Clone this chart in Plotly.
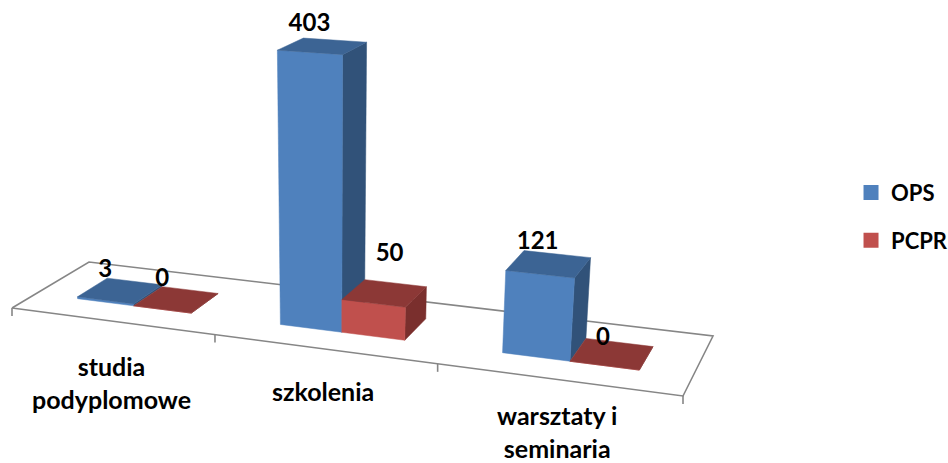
import numpy as np
import plotly.graph_objects as go

# ---- data ----
categories = ["studia<br>podyplomowe", "szkolenia", "warsztaty i<br>seminaria"]
series_names = ["OPS", "PCPR"]
ops_values = [3, 403, 121]
pcpr_values = [0, 50, 0]

# ---- styles ----
FACE = {
    "OPS": {"front": "#4F81BD", "top": "#3C6494", "side": "#315279"},
    "PCPR": {"front": "#C0504D", "top": "#8C3836", "side": "#7A2F2D"},
}
AXIS_COLOR = "#868686"
FONT = "Lato"

# ---- projection: (category position, depth, value) -> page pixel ----
FLOOR = {(0, 0): (12, 308), (3, 0): (683, 396), (3, 1): (713, 336), (0, 1): (89, 262)}
VERT_VP = (330, 4800)
A = []
b = []
for (u, v), (x, y) in FLOOR.items():
    A.append([u, v, 1, 0, 0, 0, -u * x, -v * x]); b.append(x)
    A.append([0, 0, 0, u, v, 1, -u * y, -v * y]); b.append(y)
s = np.linalg.solve(np.array(A, float), np.array(b, float))
H = np.array([[s[0], s[1], s[2]], [s[3], s[4], s[5]], [s[6], s[7], 1.0]])
K = -0.0581 / 403 * (H @ np.array([1.35, 0.3, 1.0]))[2]


def project(u, v, w):
    p = H @ np.array([u, v, 1.0]) + w * K * np.array([VERT_VP[0], VERT_VP[1], 1.0])
    return p[0] / p[2], p[1] / p[2]


BAR = 1 / 3.5
GAP = 0.75 * BAR
V0, V1 = 0.30, 0.70
fig = go.Figure()


def poly(corners, color, name):
    pts = [project(*c) for c in corners]
    fig.add_trace(go.Scatter(
        x=[p[0] for p in pts] + [pts[0][0]], y=[p[1] for p in pts] + [pts[0][1]],
        mode="lines", fill="toself", fillcolor=color,
        line=dict(color=color, width=0.5), showlegend=False, hoverinfo="skip", name=name))


def line(points, width=1.6):
    pts = [project(*c) for c in points]
    fig.add_trace(go.Scatter(
        x=[p[0] for p in pts], y=[p[1] for p in pts], mode="lines",
        line=dict(color=AXIS_COLOR, width=width), showlegend=False, hoverinfo="skip"))


# floor outline and ticks
line([(0, 0, 0), (0, 1, 0), (3, 1, 0), (3, 0, 0), (0, 0, 0)])
for i in range(4):
    x0, y0 = project(i, 0, 0)
    fig.add_trace(go.Scatter(x=[x0, x0], y=[y0, y0 + 8], mode="lines",
                             line=dict(color=AXIS_COLOR, width=1.6),
                             showlegend=False, hoverinfo="skip"))

# bars
value_sets = {"OPS": ops_values, "PCPR": pcpr_values}
label_offsets = {
    "OPS": [(-15, -20), (-13, -21), (-11, -21)],
    "PCPR": [(-14, -20), (5, -38), (-9, -15)],
}
lx, ly, lt = [], [], []
for i in range(len(categories)):
    for k, name in enumerate(series_names):
        w = value_sets[name][i]
        u0 = i + GAP + k * BAR
        u1 = u0 + BAR
        c = FACE[name]
        poly([(u1, V0, 0), (u1, V1, 0), (u1, V1, w), (u1, V0, w)], c["side"], name)
        poly([(u0, V0, 0), (u1, V0, 0), (u1, V0, w), (u0, V0, w)], c["front"], name)
        poly([(u0, V0, w), (u1, V0, w), (u1, V1, w), (u0, V1, w)], c["top"], name)
        cx, cy = project((u0 + u1) / 2, (V0 + V1) / 2, w)
        dx, dy = label_offsets[name][i]
        lx.append(cx + dx); ly.append(cy + dy); lt.append(str(w))

fig.add_trace(go.Scatter(x=lx, y=ly, mode="text", text=lt, showlegend=False, hoverinfo="skip",
                         textposition="middle center",
                         textfont=dict(family=FONT, size=24, color="black", weight="bold")))

# category labels
label_pos = [(111, 382), (323, 391), (557, 431)]
for txt, (x, y) in zip(categories, label_pos):
    fig.add_annotation(x=x, y=y, xref="x", yref="y", text=txt, showarrow=False,
                       font=dict(family=FONT, size=25, color="black", weight="bold"),
                       xanchor="center", yanchor="middle", align="center")

# legend
for k, name in enumerate(series_names):
    fig.add_trace(go.Scatter(x=[None], y=[None], mode="markers", name=name, legendgroup=name,
                             marker=dict(symbol="square", size=15, color=FACE[name]["front"])))

fig.update_layout(
    width=948, height=463, margin=dict(l=0, r=0, t=0, b=0, autoexpand=False),
    paper_bgcolor="white", plot_bgcolor="white",
    xaxis=dict(range=[0, 948], visible=False, fixedrange=True),
    yaxis=dict(range=[463, 0], visible=False, fixedrange=True),
    legend=dict(x=0.8977, y=0.629, xanchor="left", yanchor="top", tracegroupgap=16, itemwidth=30,
                bgcolor="rgba(0,0,0,0)",
                font=dict(family=FONT, size=22, color="black", weight="bold")),
)
fig.write_html("out.html", config=dict(displayModeBar=False),
               post_script="document.body.style.margin='0';document.body.style.overflow='hidden';")
